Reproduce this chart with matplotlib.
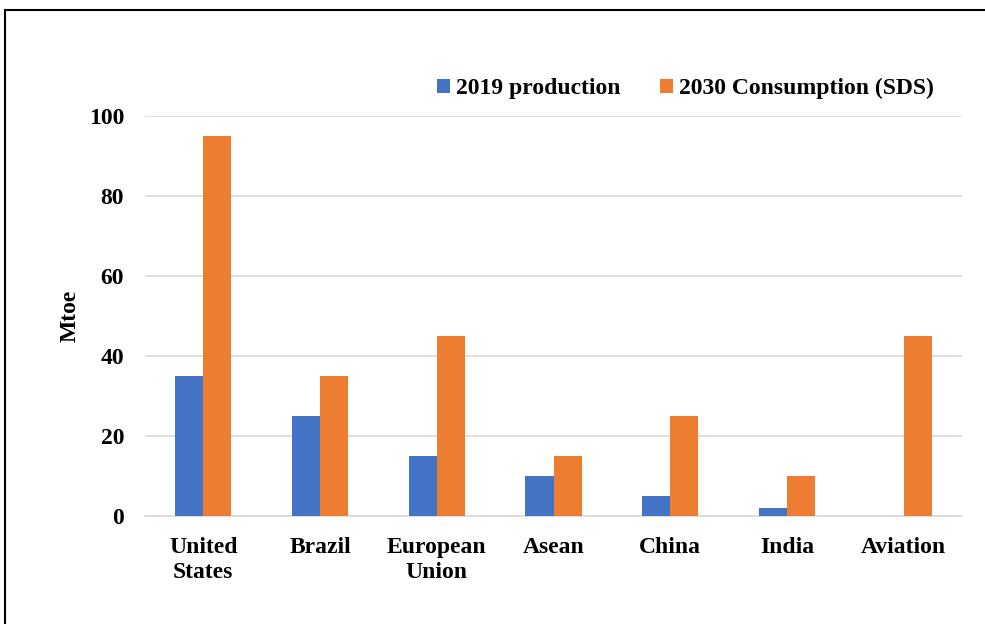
import matplotlib
matplotlib.use("Agg")
import matplotlib.pyplot as plt
import numpy as np
from matplotlib.patches import Rectangle

categories = ["United\nStates", "Brazil", "European\nUnion", "Asean", "China", "India", "Aviation"]
production_2019 = [35, 25, 15, 10, 5, 2, 0]
consumption_2030 = [95, 35, 45, 15, 25, 10, 45]
yticks = [0, 20, 40, 60, 80, 100]

plt.rcParams['font.family'] = ['Liberation Serif', 'DejaVu Serif']
plt.rcParams['font.weight'] = 'bold'

FS = 17
W, H = 985, 624
fig = plt.figure(figsize=(W/100, H/100), dpi=100)
ax = fig.add_axes([145/W, 1-516/H, (962-145)/W, (516-116)/H])

x = np.arange(len(categories))
bw = 0.24
ax.bar(x - bw/2, production_2019, bw, color="#4472C4", label="2019 production", zorder=3)
ax.bar(x + bw/2, consumption_2030, bw, color="#ED7D31", label="2030 Consumption (SDS)", zorder=3)

ax.set_xlim(-0.5, len(categories) - 0.5)
ax.set_ylim(0, 100)
ax.set_yticks(yticks)
ax.set_yticklabels([str(v) for v in yticks], fontsize=FS, fontweight='bold')
ax.set_xticks(x)
ax.set_xticklabels(categories, fontsize=FS, fontweight='bold', linespacing=1.25)
ax.tick_params(axis='y', length=0, pad=15)
ax.tick_params(axis='x', length=0, pad=15)
ax.grid(axis='y', color="#d9d9d9", linewidth=1.2, zorder=0)
for s in ["top", "right", "left"]:
    ax.spines[s].set_visible(False)
ax.spines["bottom"].set_color("#d9d9d9")
ax.spines["bottom"].set_linewidth(1.2)
ax.set_ylabel("Mtoe", fontsize=FS, fontweight='bold', labelpad=6)

leg = ax.legend(loc="lower right", bbox_to_anchor=(0.986, 1.0), ncol=2, frameon=False,
                prop={'size': FS, 'weight': 'bold'}, handlelength=0.55, handleheight=0.55,
                handletextpad=0.25, columnspacing=1.7, borderaxespad=0.3)

fig.patches.append(Rectangle((5/W, -0.1), 1.2, (H-10)/H + 0.1, transform=fig.transFigure,
                             fill=False, edgecolor="black", linewidth=1.5))

fig.savefig("out.png", dpi=100)
